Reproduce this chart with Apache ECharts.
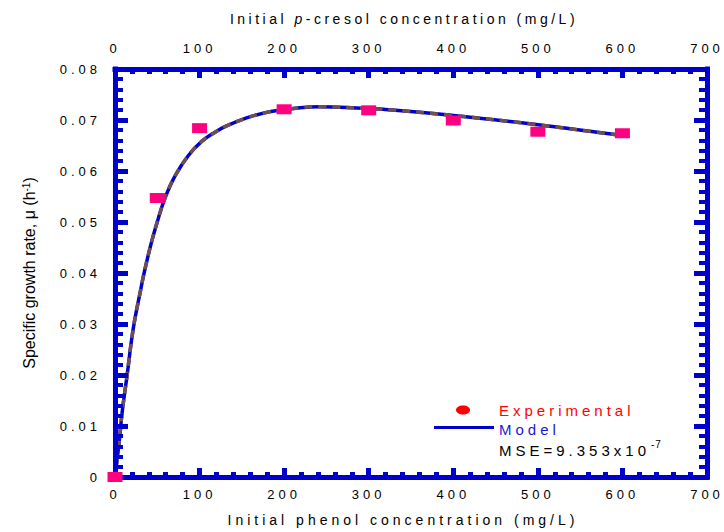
<!DOCTYPE html>
<html>
<head>
<meta charset="utf-8">
<script src="https://cdn.jsdelivr.net/npm/echarts@6/dist/echarts.min.js"></script>
<style>
  html, body { margin: 0; padding: 0; background: #ffffff; }
  #chart { width: 724px; height: 532px; }
</style>
</head>
<body>
<div id="chart"></div>
<script>
// Measured specific growth rates at each initial concentration
const expConc = [0, 50, 100, 200, 300, 400, 500, 600];
const expRate = [0, 0.0547, 0.0684, 0.0721, 0.0719, 0.0699, 0.0677, 0.0674];

// Model curve sampled along the fitted kinetics
const modelConc = [0, 4.7, 8.6, 13.8, 21.6, 30.7, 35.5, 43.4, 51.2, 59.1, 70.9, 86.6, 102.5, 118.2, 130, 155.6, 179.3, 195, 218.7, 242, 293.5, 309, 400, 498, 593, 600];
const modelRate = [0, 0.0065, 0.0129, 0.0193, 0.0291, 0.0370, 0.0408, 0.0462, 0.0507, 0.0547, 0.0590, 0.0630, 0.0658, 0.0676, 0.0687, 0.0704, 0.0715, 0.0719, 0.0724, 0.0726, 0.0723, 0.0722, 0.0709, 0.0691, 0.0671, 0.0670];

// Axis ranges and tick steps
const xRange = [0, 700];
const xStep = 100;
const yRange = [0, 0.08];
const yStep = 0.01;

const xTitle = 'Initial phenol concentration (mg/L)';
const topTitleParts = ['Initial ', 'p', '-cresol concentration (mg/L)'];
const yTitleParts = ['Specific growth rate, \u03bc (h', '-1', ')'];
const legendNames = ['Experimental', 'Model'];
const mseText = 'MSE=9.353x10';
const mseExp = '-7';

const FONT = '"Liberation Sans", Arial, sans-serif';
const SP = 4;           // letter spacing used by most texts
const SP_TOP = 3.5;     // slightly tighter spacing for the top title
const BLUE = '#0000cc';
const PINK = '#ff0080';
const BROWN = '#6e5050';

const measureCtx = document.createElement('canvas').getContext('2d');
function spacedWidth(str, font, sp) {
  measureCtx.font = font;
  return measureCtx.measureText(str).width + sp * str.length;
}

const expData = expConc.map((c, i) => [c, expRate[i]]);
const modelData = modelConc.map((c, i) => [c, modelRate[i]]);

function xAxisCfg(pos, showLabel, labelMargin) {
  return {
    type: 'value', position: pos, min: xRange[0], max: xRange[1], interval: xStep,
    z: 3,
    axisLine: { show: true, onZero: false, lineStyle: { color: BLUE, width: 5, cap: 'square' } },
    axisTick: { show: true, inside: true, length: 9, lineStyle: { color: BLUE, width: 5 } },
    minorTick: { show: true, splitNumber: 5, length: 5, lineStyle: { color: BLUE, width: 5 } },
    splitLine: { show: false },
    axisLabel: { show: showLabel, margin: labelMargin, color: '#000', fontSize: 13, fontFamily: FONT }
  };
}
function yAxisCfg(pos, showLabel) {
  return {
    type: 'value', position: pos, min: yRange[0], max: yRange[1], interval: yStep,
    z: 3,
    axisLine: { show: true, onZero: false, lineStyle: { color: BLUE, width: 5, cap: 'square' } },
    axisTick: { show: true, inside: true, length: 13, lineStyle: { color: BLUE, width: 5 } },
    minorTick: { show: true, splitNumber: 5, length: 8, lineStyle: { color: BLUE, width: 4 } },
    splitLine: { show: false },
    axisLabel: { show: showLabel, margin: 14, color: '#000', fontSize: 13, fontFamily: FONT }
  };
}

const bottomX = xAxisCfg('bottom', true, 11);
bottomX.name = xTitle;
bottomX.nameLocation = 'middle';
bottomX.nameGap = 36;
bottomX.nameTextStyle = { color: '#000', fontSize: 14, fontFamily: FONT, padding: [0, 16, 0, 0] };

const leftY = yAxisCfg('left', true);
leftY.name = '{t|' + yTitleParts[0] + '}{s|' + yTitleParts[1] + '}{t|' + yTitleParts[2] + '}';
leftY.nameLocation = 'middle';
leftY.nameRotate = 90;
leftY.nameGap = 78;
leftY.nameTextStyle = {
  color: '#000', fontFamily: FONT, fontSize: 16,
  rich: {
    t: { fontSize: 16, fontFamily: FONT, color: '#000' },
    s: { fontSize: 10, fontFamily: FONT, color: '#000', verticalAlign: 'top' }
  }
};

// Top title: regular, italic p, regular, laid out left to right
const tFont = '14px ' + FONT;
const tiFont = 'italic 14px ' + FONT;
const wA = spacedWidth(topTitleParts[0], tFont, SP_TOP);
const wB = spacedWidth(topTitleParts[1], tiFont, SP_TOP);
const wC = spacedWidth(topTitleParts[2], tFont, SP_TOP);
const topX0 = 404 - (wA + wB + wC) / 2;
const topY = 19;

const legFont = '15px ' + FONT;
const mseEnd = 499 + spacedWidth(mseText, legFont, SP);

function txt(text, x, y, font, fill) {
  return {
    type: 'text', z: 10,
    style: { text: text, x: x, y: y, font: font, fill: fill,
             textAlign: 'left', align: 'left', textVerticalAlign: 'middle', verticalAlign: 'middle' }
  };
}

const option = {
  animation: false,
  backgroundColor: '#ffffff',
  grid: { left: 115, right: 17, top: 69, bottom: 53, containLabel: false },
  xAxis: [bottomX, xAxisCfg('top', true, 14)],
  yAxis: [leftY, yAxisCfg('right', false)],
  series: [
    {
      name: legendNames[1], type: 'line', data: modelData, smooth: 0.4, showSymbol: false,
      symbol: 'none', z: 1, lineStyle: { color: BLUE, width: 3.5 }
    },
    {
      name: legendNames[1] + ' dash', type: 'line', data: modelData, smooth: 0.4, showSymbol: false,
      symbol: 'none', z: 2, lineStyle: { color: BROWN, width: 3.5, type: [8, 6] }
    },
    {
      name: legendNames[0], type: 'scatter', data: expData, symbol: 'rect', symbolSize: [15, 10],
      z: 6, itemStyle: { color: PINK, opacity: 1 }
    }
  ],
  graphic: [
    txt(topTitleParts[0], topX0, topY, tFont, '#000'),
    txt(topTitleParts[1], topX0 + wA, topY, tiFont, '#000'),
    txt(topTitleParts[2], topX0 + wA + wB, topY, tFont, '#000'),
    { type: 'ellipse', z: 10, shape: { cx: 463, cy: 410, rx: 7, ry: 4.5 }, style: { fill: '#ff0000' } },
    { type: 'line', z: 10, shape: { x1: 434, y1: 427.5, x2: 494, y2: 427.5 }, style: { stroke: BLUE, lineWidth: 3 } },
    txt(legendNames[0], 499, 410, legFont, '#ff0000'),
    txt(legendNames[1], 499, 429, legFont, '#1a1ad6'),
    txt(mseText, 499, 450, legFont, '#000'),
    txt(mseExp, mseEnd + 1, 444, '10px ' + FONT, '#000')
  ]
};

const chart = echarts.init(document.getElementById('chart'), null, { renderer: 'svg' });

// Wide character spacing on every label except the rotated y-axis title
const topSet = topTitleParts.slice();
function applySpacing() {
  document.querySelectorAll('#chart svg text').forEach(function (t) {
    const s = t.textContent;
    if (yTitleParts.indexOf(s) >= 0) return;
    let spacing = SP;
    if (s === mseExp) spacing = 1;
    else if (topSet.indexOf(s) >= 0) spacing = SP_TOP;
    t.setAttribute('letter-spacing', spacing);
    t.style.letterSpacing = spacing + 'px';
  });
}
chart.on('finished', applySpacing);
chart.setOption(option);
applySpacing();
setTimeout(applySpacing, 50);
</script>
</body>
</html>
